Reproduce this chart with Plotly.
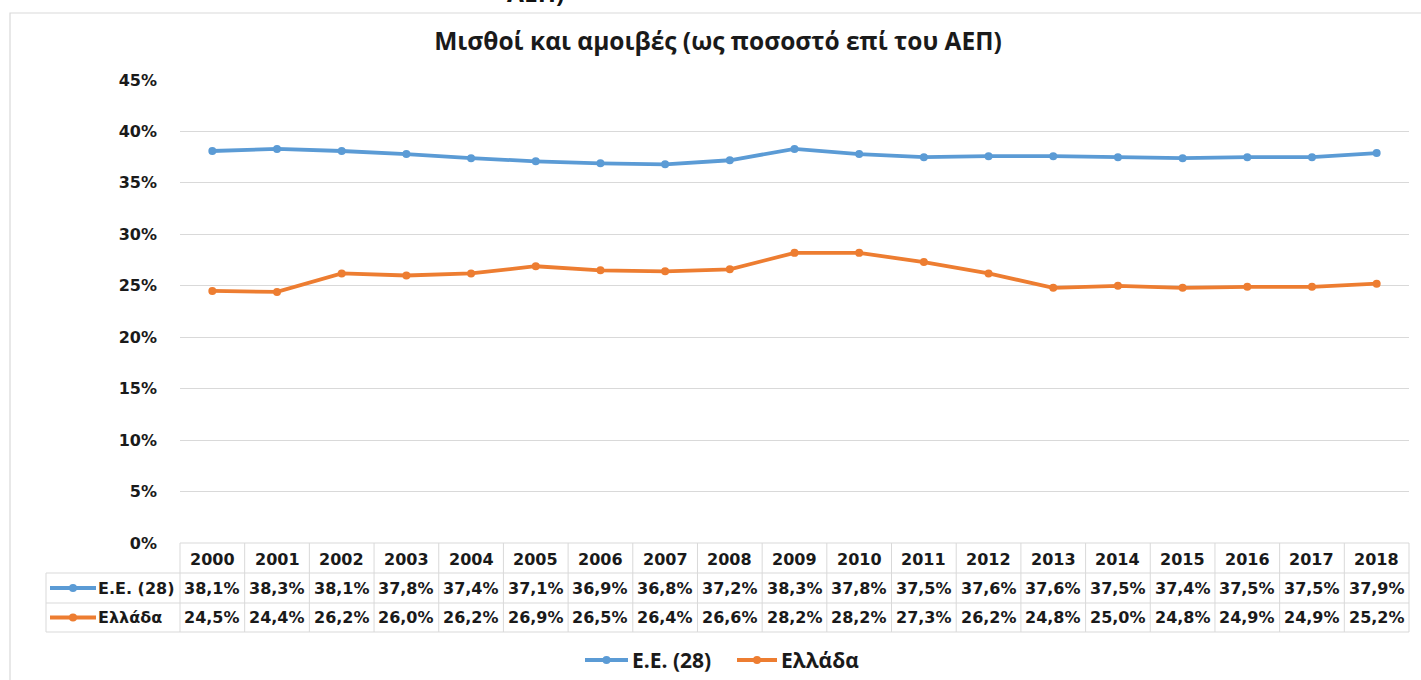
import plotly.graph_objects as go

years = [str(y) for y in range(2000, 2019)]
eu = [38.1, 38.3, 38.1, 37.8, 37.4, 37.1, 36.9, 36.8, 37.2, 38.3,
      37.8, 37.5, 37.6, 37.6, 37.5, 37.4, 37.5, 37.5, 37.9]
gr = [24.5, 24.4, 26.2, 26.0, 26.2, 26.9, 26.5, 26.4, 26.6, 28.2,
      28.2, 27.3, 26.2, 24.8, 25.0, 24.8, 24.9, 24.9, 25.2]
series_names = ["Ε.Ε. (28)", "Ελλάδα"]
series_colors = ["#5B9BD5", "#ED7D31"]
title = "Μισθοί και αμοιβές (ως ποσοστό επί του ΑΕΠ)"

W, H = 1421, 680
L, R, T, B = 180, 1409, 80, 543  # plot area in pixels


def px(x):
    return (x - L) / (R - L)


def py(y):
    return (B - y) / (B - T)


fig = go.Figure()
for name, vals, col in zip(series_names, [eu, gr], series_colors):
    fig.add_trace(go.Scatter(x=years, y=vals, name=name, mode="lines+markers",
                             line=dict(color=col, width=3.8),
                             marker=dict(color=col, size=8),
                             showlegend=False))

tfont = dict(family="DejaVu Sans", size=16, color="#1a1a1a")
lfont = dict(family="Open Sans", size=21, color="#1a1a1a")
grid = "#D9D9D9"
shapes = []
ann = []


def label(x, y, text, font, xref="paper", xanchor="center"):
    ann.append(dict(x=x, xref=xref, y=py(y), yref="paper", text=text,
                    xanchor=xanchor, yanchor="middle", showarrow=False, font=font))


def key(x0, x1, yc, col):
    # line + dot legend key
    shapes.append(dict(type="line", xref="paper", yref="paper",
                       x0=px(x0), x1=px(x1), y0=py(yc), y1=py(yc),
                       line=dict(color=col, width=3.8)))
    xm = (x0 + x1) / 2
    shapes.append(dict(type="circle", xref="paper", yref="paper",
                       x0=px(xm - 4), x1=px(xm + 4), y0=py(yc - 4), y1=py(yc + 4),
                       fillcolor=col, line=dict(color=col, width=0)))


# outer chart border
shapes.append(dict(type="rect", xref="paper", yref="paper",
                   x0=px(10), x1=px(1440), y0=py(700), y1=py(13),
                   line=dict(color=grid, width=1.2)))

# data table below the plot
n = len(years)
cw = (R - L) / n
rows = [543, 573, 603, 632]
shapes.append(dict(type="line", xref="paper", yref="paper",
                   x0=0, x1=1, y0=py(rows[0]), y1=py(rows[0]),
                   line=dict(color=grid, width=1)))
for r in rows[1:]:
    shapes.append(dict(type="line", xref="paper", yref="paper",
                       x0=px(46), x1=1, y0=py(r), y1=py(r),
                       line=dict(color=grid, width=1)))
for k in range(n + 1):
    xk = L + k * cw
    shapes.append(dict(type="line", xref="paper", yref="paper",
                       x0=px(xk), x1=px(xk), y0=py(rows[0]), y1=py(rows[-1]),
                       line=dict(color=grid, width=1)))
shapes.append(dict(type="line", xref="paper", yref="paper",
                   x0=px(46), x1=px(46), y0=py(rows[1]), y1=py(rows[-1]),
                   line=dict(color=grid, width=1)))

for k, yr in enumerate(years):
    label(k, (rows[0] + rows[1]) / 2 + 1, "<b>%s</b>" % yr, tfont, xref="x")

for i, (name, vals, col) in enumerate(zip(series_names, [eu, gr], series_colors)):
    ymid = (rows[i + 1] + rows[i + 2]) / 2
    for k, v in enumerate(vals):
        label(k, ymid, "<b>%s%%</b>" % ("%.1f" % v).replace(".", ","), tfont, xref="x")
    label(px(96), ymid, "<b>%s</b>" % name, tfont, xanchor="left")
    key(50, 96, ymid, col)

# bottom legend
leg_x = [(585, 628), (737, 777)]
for (x0, x1), name, col in zip(leg_x, series_names, series_colors):
    key(x0, x1, 660, col)
    label(px(x1 + 2), 660, "<b>%s</b>" % name, lfont, xanchor="left")

# clipped remnant of a title above the chart
label(px(535), -7, "<b>ΑΕΠ)</b>", dict(family="Open Sans", size=24.5, color="#111"))

fig.update_layout(
    width=W, height=H,
    margin=dict(l=L, r=W - R, t=T, b=H - B, pad=0),
    paper_bgcolor="white", plot_bgcolor="white",
    title=dict(text="<b>%s</b>" % title, x=px(718), xref="paper", xanchor="center",
               y=1 - 41 / H, yanchor="middle",
               font=dict(family="Open Sans", size=24.5, color="#1a1a1a")),
    xaxis=dict(type="category", range=[-0.5, n - 0.5], showticklabels=False,
               showgrid=False, zeroline=False, showline=False, ticks=""),
    yaxis=dict(range=[0, 45], dtick=5, ticksuffix="%", showgrid=True,
               gridcolor=grid, gridwidth=1, zeroline=False, showline=False,
               ticklabelstandoff=22, automargin=False,
               tickfont=dict(family="DejaVu Sans", size=16, color="#1a1a1a"),
               tickprefix="<b>"),
    showlegend=False,
    shapes=shapes, annotations=ann,
)

fig.write_html("out.html", config={"displayModeBar": False},
               post_script="document.body.style.margin='0';")
